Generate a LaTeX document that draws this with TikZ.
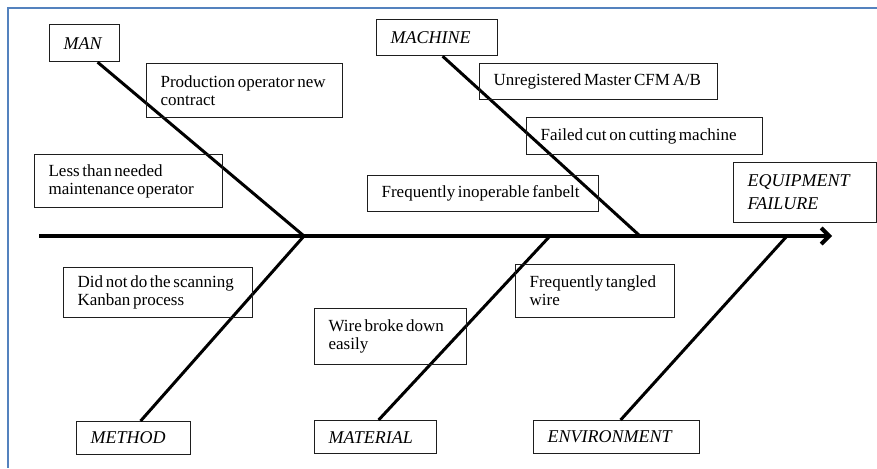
\documentclass[tikz,border=0pt]{standalone}
\usepackage{fontspec}
\setmainfont{Liberation Serif}
\usetikzlibrary{arrows.meta}
\definecolor{framebl}{RGB}{84,130,190}
\definecolor{boxline}{RGB}{30,30,30}
\newcommand{\causefont}{\fontsize{17pt}{18pt}\selectfont}
\newcommand{\catfont}{\fontsize{18pt}{23pt}\selectfont\itshape}
\tikzset{
  frameline/.style={draw=framebl, line width=1.6pt},
  cause/.style={draw=boxline, line width=1.2pt, anchor=north west, align=left,
                inner xsep=14pt, inner ysep=0pt, font=\causefont,
                execute at begin node={\spaceskip=0.16em\relax}},
  cat/.style={cause, font=\catfont},
  bone/.style={line width=3pt},
  spine/.style={line width=4pt, -{Straight Barb[length=8pt,width=16pt,line width=4pt]}}
}
\begin{document}
\begin{tikzpicture}[x=1pt,y=-1pt]
\useasboundingbox (0,0) rectangle (877,468);
% page frame
\draw[frameline] (877,8) -- (8,8) -- (8,468);

% categories
\node[cat, text width=42pt,  minimum height=37pt] (man)  at (49,24)   {MAN};
\node[cat, text width=93pt,  minimum height=36pt] (mach) at (376,19)  {MACHINE};
\node[cat, text width=86pt,  minimum height=33pt] (meth) at (76,421)  {METHOD};
\node[cat, text width=94pt,  minimum height=33pt] (mat)  at (314,420) {MATERIAL};
\node[cat, text width=138pt, minimum height=33pt] (env)  at (533,420) {ENVIRONMENT};
\node[cat, text width=115pt, minimum height=60pt] (eff)  at (733,162) {EQUIPMENT\\FAILURE};

% spine and junctions
\coordinate (tail) at (39,236);
\coordinate (head) at (832,236);
\coordinate (jman) at (304,236);
\coordinate (jmach) at (640,236);
\coordinate (jmat) at (550,236);
\coordinate (jenv) at (787,236);
\draw[spine] (tail) -- (head);

% bones
\draw[bone] ([xshift=13pt]man.south) -- (jman);
\draw[bone] (jman) -- ([xshift=7pt]meth.north);
\draw[bone] ([xshift=5.5pt]mach.south) -- (jmach);
\draw[bone] (jmat) -- ([xshift=3pt]mat.north);
\draw[bone] (jenv) -- ([xshift=4pt]env.north);

% causes
\node[cause, text width=168pt, minimum height=54pt] (c1) at (146,63)  {Production operator new\\contract};
\node[cause, text width=160pt, minimum height=53pt] (c2) at (34,154)  {Less than needed\\maintenance operator};
\node[cause, text width=161pt, minimum height=50pt] (c3) at (63,267)  {Did not do the scanning\\Kanban process};
\node[cause, text width=210pt, minimum height=36pt] (c4) at (479,63)  {Unregistered Master CFM A/B};
\node[cause, text width=208pt, minimum height=37pt] (c5) at (526,117) {Failed cut on cutting machine};
\node[cause, text width=203pt, minimum height=36pt] (c6) at (367,175) {Frequently inoperable fanbelt};
\node[cause, text width=131pt, minimum height=53pt] (c7) at (515,264) {Frequently tangled\\wire};
\node[cause, text width=124pt, minimum height=56pt] (c8) at (314,308) {Wire broke down\\easily};
\end{tikzpicture}
\end{document}
